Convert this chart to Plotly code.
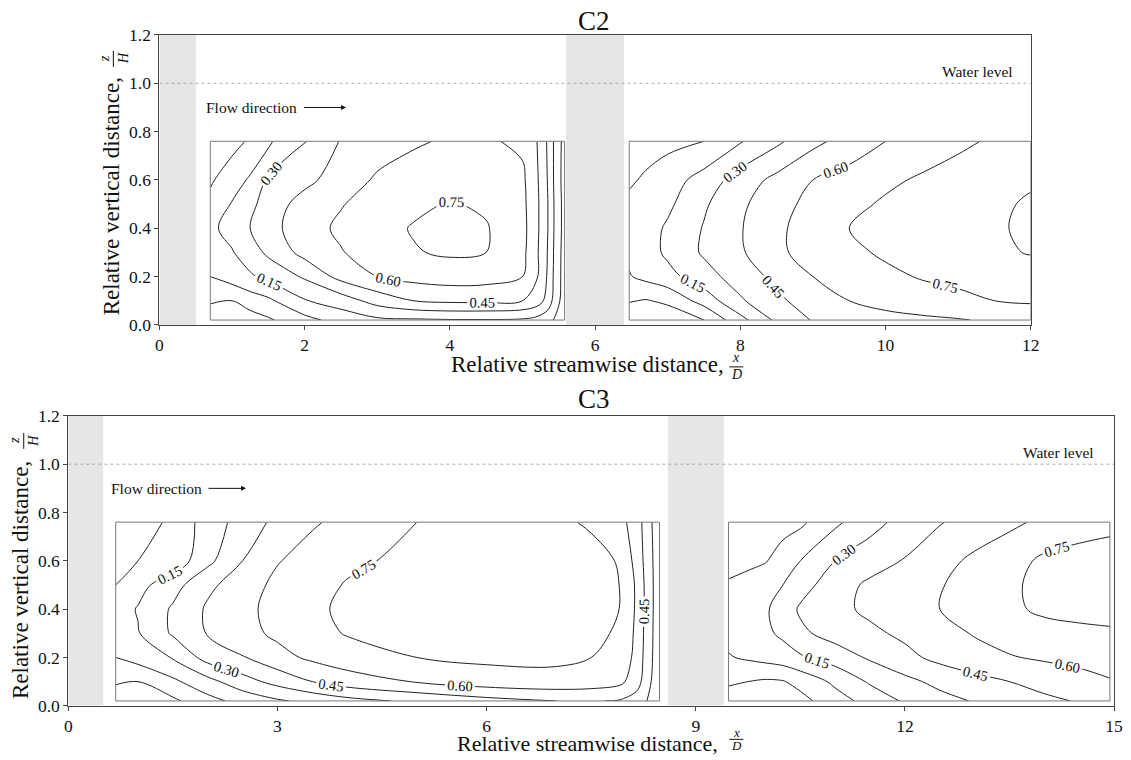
import plotly.graph_objects as go

# ---------------- DATA ----------------
levels = [-0.15, 0.00, 0.15, 0.30, 0.45, 0.60, 0.75, 0.90]
y_nodes = [0.02, 0.1, 0.2, 0.3, 0.4, 0.5, 0.6, 0.76]

# C2, upstream window (between pier 1 and pier 2)
c2a_x = [0.7, 1.0, 1.25, 1.5, 2.0, 2.5, 3.0, 3.5, 4.0, 4.5, 5.0, 5.2, 5.35, 5.45, 5.58]
c2a_z = [
    [-0.25, -0.25, -0.22, -0.17, -0.05, 0.06, 0.12, 0.13, 0.14, 0.14, 0.13, 0.10, 0.05, -0.02, -0.10],
    [-0.13, -0.15, -0.08, -0.03, 0.14, 0.22, 0.36, 0.45, 0.48, 0.48, 0.45, 0.38, 0.24, 0.08, -0.08],
    [0.00, 0.07, 0.13, 0.19, 0.32, 0.50, 0.60, 0.65, 0.67, 0.66, 0.60, 0.46, 0.28, 0.10, -0.07],
    [0.08, 0.14, 0.23, 0.33, 0.50, 0.59, 0.68, 0.74, 0.77, 0.75, 0.64, 0.47, 0.29, 0.11, -0.07],
    [0.12, 0.20, 0.30, 0.40, 0.53, 0.63, 0.70, 0.76, 0.79, 0.76, 0.65, 0.48, 0.30, 0.12, -0.06],
    [0.04, 0.16, 0.26, 0.37, 0.51, 0.59, 0.67, 0.72, 0.76, 0.73, 0.64, 0.48, 0.30, 0.12, -0.06],
    [-0.02, 0.08, 0.17, 0.32, 0.41, 0.52, 0.62, 0.67, 0.69, 0.69, 0.63, 0.47, 0.29, 0.11, -0.07],
    [-0.12, -0.05, 0.02, 0.13, 0.29, 0.46, 0.53, 0.58, 0.62, 0.62, 0.57, 0.45, 0.28, 0.11, -0.06],
]

# C2, downstream window
c2b_x = [6.47, 6.7, 7.0, 7.5, 8.0, 8.5, 9.0, 9.5, 10.0, 10.5, 11.0, 11.5, 12.0]
c2b_z = [
    [-0.25, -0.28, -0.25, -0.15, 0.10, 0.33, 0.46, 0.52, 0.55, 0.57, 0.59, 0.62, 0.64],
    [-0.14, -0.16, -0.12, 0.06, 0.28, 0.42, 0.52, 0.60, 0.65, 0.69, 0.72, 0.75, 0.77],
    [-0.01, 0.04, 0.10, 0.24, 0.37, 0.49, 0.60, 0.66, 0.72, 0.76, 0.78, 0.80, 0.82],
    [0.03, 0.08, 0.18, 0.32, 0.43, 0.57, 0.66, 0.72, 0.77, 0.80, 0.83, 0.87, 0.91],
    [0.05, 0.09, 0.17, 0.31, 0.44, 0.57, 0.67, 0.75, 0.79, 0.82, 0.85, 0.88, 0.93],
    [0.03, 0.06, 0.12, 0.28, 0.42, 0.55, 0.64, 0.71, 0.77, 0.81, 0.84, 0.87, 0.92],
    [-0.02, 0.02, 0.08, 0.21, 0.37, 0.49, 0.60, 0.66, 0.72, 0.77, 0.81, 0.85, 0.88],
    [-0.08, -0.06, -0.04, 0.00, 0.14, 0.27, 0.41, 0.51, 0.60, 0.66, 0.72, 0.77, 0.80],
]

# C3, upstream window
c3a_x = [0.68, 1.0, 1.5, 2.0, 2.5, 3.0, 3.5, 4.0, 5.0, 6.0, 7.0, 7.5, 7.9, 8.15, 8.3, 8.48]
c3a_z = [
    [-0.25, -0.26, -0.18, -0.05, 0.05, 0.13, 0.19, 0.25, 0.33, 0.40, 0.45, 0.46, 0.44, 0.38, 0.30, 0.15],
    [-0.13, -0.15, -0.03, 0.10, 0.24, 0.35, 0.45, 0.53, 0.61, 0.68, 0.70, 0.68, 0.64, 0.52, 0.36, 0.18],
    [0.00, 0.06, 0.16, 0.36, 0.44, 0.55, 0.63, 0.68, 0.75, 0.78, 0.78, 0.75, 0.70, 0.56, 0.38, 0.20],
    [0.06, 0.14, 0.32, 0.46, 0.55, 0.63, 0.70, 0.76, 0.80, 0.81, 0.81, 0.79, 0.73, 0.57, 0.39, 0.20],
    [0.08, 0.16, 0.32, 0.47, 0.56, 0.65, 0.72, 0.78, 0.82, 0.83, 0.83, 0.82, 0.75, 0.58, 0.40, 0.20],
    [0.00, 0.10, 0.24, 0.42, 0.52, 0.64, 0.70, 0.76, 0.81, 0.83, 0.83, 0.82, 0.75, 0.58, 0.40, 0.20],
    [-0.05, 0.00, 0.05, 0.26, 0.45, 0.59, 0.67, 0.72, 0.79, 0.82, 0.82, 0.80, 0.74, 0.55, 0.39, 0.20],
    [-0.12, -0.07, 0.03, 0.22, 0.36, 0.49, 0.58, 0.65, 0.75, 0.79, 0.78, 0.73, 0.66, 0.52, 0.38, 0.18],
]

# C3, downstream window
c3b_x = [9.47, 9.75, 10.0, 10.25, 10.5, 11.0, 11.5, 12.0, 12.5, 13.0, 13.5, 14.0, 14.5, 14.94]
c3b_z = [
    [-0.25, -0.28, -0.30, -0.28, -0.20, -0.06, 0.05, 0.17, 0.25, 0.31, 0.37, 0.42, 0.46, 0.50],
    [-0.12, -0.15, -0.17, -0.16, -0.10, 0.03, 0.17, 0.26, 0.34, 0.40, 0.45, 0.50, 0.55, 0.59],
    [-0.01, 0.02, 0.05, 0.08, 0.13, 0.22, 0.32, 0.41, 0.49, 0.55, 0.59, 0.62, 0.64, 0.66],
    [0.04, 0.08, 0.12, 0.18, 0.27, 0.36, 0.42, 0.48, 0.55, 0.61, 0.66, 0.69, 0.72, 0.73],
    [0.05, 0.09, 0.13, 0.22, 0.32, 0.41, 0.48, 0.54, 0.60, 0.66, 0.72, 0.78, 0.79, 0.80],
    [0.02, 0.06, 0.10, 0.15, 0.24, 0.38, 0.48, 0.54, 0.59, 0.66, 0.72, 0.80, 0.83, 0.84],
    [-0.06, -0.04, -0.01, 0.07, 0.15, 0.30, 0.38, 0.46, 0.55, 0.63, 0.69, 0.78, 0.80, 0.80],
    [-0.12, -0.10, -0.08, -0.06, -0.03, 0.12, 0.25, 0.35, 0.44, 0.51, 0.57, 0.63, 0.69, 0.72],
]

piers_c2 = [(0.0, 0.5), (5.6, 6.4)]
piers_c3 = [(0.0, 0.5), (8.6, 9.4)]
xmax_c2, xmax_c3 = 12, 15
xticks_c2 = [0, 2, 4, 6, 8, 10, 12]
xticks_c3 = [0, 3, 6, 9, 12, 15]
yticks = [0.0, 0.2, 0.4, 0.6, 0.8, 1.0, 1.2]
water_level = 1.0

# ---------------- FIGURE ----------------
W, H = 1131, 760
SERIF = "Liberation Serif, Times New Roman, serif"

# the photographed page shows up slightly inset; map target picture pixels -> page pixels
SX, AX = 0.987, 3.8
SY, AY = 0.974, 9.0


def PX(r):
    return (r - AX) / SX


def PY(r):
    return (r - AY) / SY


def fx(p):          # page px -> paper fraction
    return min(1.0, max(0.0, p / W))


def fy(p):
    return min(1.0, max(0.0, 1 - p / H))


fig = go.Figure()


def add_contour(x, z, xa, ya):
    fig.add_trace(go.Contour(
        x=x, y=y_nodes, z=z, xaxis=xa, yaxis=ya,
        contours=dict(start=levels[0], end=levels[-1], size=0.15,
                      coloring="none", showlabels=True,
                      labelfont=dict(family=SERIF, size=14.5, color="#111"),
                      labelformat=".2f"),
        line=dict(color="#222", width=1, smoothing=1),
        showscale=False, hoverinfo="skip"))


add_contour(c2a_x, c2a_z, "x", "y")
add_contour(c2b_x, c2b_z, "x", "y")
add_contour(c3a_x, c3a_z, "x2", "y2")
add_contour(c3b_x, c3b_z, "x2", "y2")

shapes = []
for xr, yr, piers, xmax, xs in (("x", "y", piers_c2, xmax_c2, (c2a_x, c2b_x)),
                                ("x2", "y2", piers_c3, xmax_c3, (c3a_x, c3b_x))):
    for a, b in piers:
        shapes.append(dict(type="rect", xref=xr, yref=yr, x0=a, x1=b, y0=0, y1=1.2,
                           fillcolor="#e6e6e6", line=dict(width=0), layer="below"))
    shapes.append(dict(type="line", xref=xr, yref=yr, x0=0, x1=xmax,
                       y0=water_level, y1=water_level,
                       line=dict(color="#999", width=0.8, dash="dot")))
    for xx in xs:
        shapes.append(dict(type="rect", xref=xr, yref=yr, x0=xx[0], x1=xx[-1],
                           y0=y_nodes[0], y1=y_nodes[-1],
                           line=dict(color="#777", width=1), fillcolor="rgba(0,0,0,0)"))

annotations = []


def ann(text, xp, yp, size, angle=0, **kw):
    d = dict(text=text, x=fx(xp), y=fy(yp), xref="paper", yref="paper", showarrow=False,
             font=dict(family=SERIF, size=size, color="#111"), textangle=angle,
             xanchor="center", yanchor="middle", borderpad=0)
    d.update(kw)
    annotations.append(d)


def frac_line(x0, y0, x1, y1):
    shapes.append(dict(type="line", xref="paper", yref="paper",
                       x0=fx(x0), y0=fy(y0), x1=fx(x1), y1=fy(y1),
                       line=dict(color="#111", width=1)))


# panel titles
ann("C2", PX(593), 11, 27)
ann("C3", PX(593), PY(398), 27)

# top panel axis titles
ann("Relative vertical distance,", PX(112), PY(195), 23, angle=-90)
ann("<i>z</i>", PX(104), PY(58), 14.5, angle=-90)
ann("<i>H</i>", PX(123), PY(57), 14.5, angle=-90)
frac_line(PX(113), PY(50), PX(113), PY(66))
ann("Relative streamwise distance,", PX(586), PY(364), 23)
ann("<i>x</i>", PX(735), PY(357), 14)
ann("<i>D</i>", PX(735), PY(374), 14)
frac_line(PX(728), PY(366), PX(742), PY(366))

# bottom panel axis titles
ann("Relative vertical distance,", PX(21), PY(579), 23, angle=-90)
ann("<i>z</i>", PX(14), PY(440), 14.5, angle=-90)
ann("<i>H</i>", PX(33), PY(440), 14.5, angle=-90)
frac_line(PX(23.5), PY(432), PX(23.5), PY(448))
ann("Relative streamwise distance,", PX(586), 753, 22)
ann("<i>x</i>", PX(735), 742, 13)
ann("<i>D</i>", PX(735), 755, 13)
frac_line(PX(728), 749, PX(742), 749)

# flow direction and water level (data coords)
for xr, yr, tx, hx, wl_x in (("x", "y", 1.97, 2.57, 11.26), ("x2", "y2", 1.99, 2.55, 14.2)):
    annotations.append(dict(text="Flow direction", x=tx - 0.05, y=0.9, xref=xr, yref=yr,
                            showarrow=False, xanchor="right", yanchor="middle",
                            font=dict(family=SERIF, size=15.5, color="#111")))
    annotations.append(dict(text="", x=hx, y=0.9, ax=tx, ay=0.9, xref=xr, yref=yr,
                            axref=xr, ayref=yr, showarrow=True, arrowhead=2,
                            arrowsize=1, arrowwidth=1, arrowcolor="#111"))
    annotations.append(dict(text="Water level", x=wl_x, y=water_level + 0.005,
                            xref=xr, yref=yr, showarrow=False, xanchor="center",
                            yanchor="bottom",
                            font=dict(family=SERIF, size=15.5, color="#111")))

axis_common = dict(showline=True, mirror=True, linecolor="#444", linewidth=1,
                   ticks="outside", ticklen=4, tickcolor="#444", showgrid=False,
                   zeroline=False, tickfont=dict(family=SERIF, size=17.5, color="#111"))

fig.update_layout(
    width=W, height=H, margin=dict(l=0, r=0, t=0, b=0),
    paper_bgcolor="white", plot_bgcolor="white", showlegend=False,
    font=dict(family=SERIF),
    xaxis=dict(domain=[fx(PX(159)), fx(PX(1029))], range=[0, xmax_c2],
               tickvals=xticks_c2, anchor="y", **axis_common),
    yaxis=dict(domain=[fy(PY(324)), fy(PY(34))], range=[0, 1.2], tickvals=yticks,
               tickformat=".1f", anchor="x", **axis_common),
    xaxis2=dict(domain=[fx(PX(68)), fx(min(PX(1121), 1123))], range=[0, xmax_c3],
                tickvals=xticks_c3, anchor="y2", **axis_common),
    yaxis2=dict(domain=[fy(PY(705)), fy(PY(415))], range=[0, 1.2], tickvals=yticks,
                tickformat=".1f", anchor="x2", **axis_common),
    shapes=shapes, annotations=annotations,
)

fig.write_html("out.html")
